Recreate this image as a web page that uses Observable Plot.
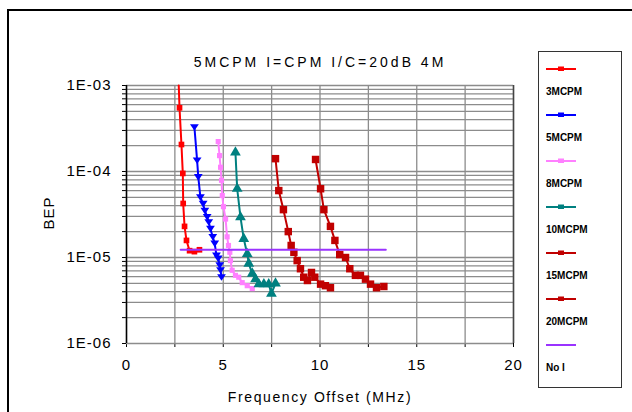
<!DOCTYPE html>
<html>
<head>
<meta charset="utf-8">
<script src="https://cdn.jsdelivr.net/npm/d3@7"></script>
<script src="https://cdn.jsdelivr.net/npm/@observablehq/plot@0.6"></script>
<style>
  html, body { margin: 0; padding: 0; background: #fff; overflow: hidden; }
  #wrap { position: relative; width: 632px; height: 412px; overflow: hidden; font-family: "Liberation Sans", Arial, sans-serif; }
  #frame { position: absolute; left: 7px; top: 9px; width: 700px; height: 500px; border: 2px solid #000; box-sizing: border-box; }
  #chart { position: absolute; left: 0; top: 0; }
  .txt { position: absolute; color: #000; white-space: nowrap; }
  #title { left: 0; width: 640px; top: 54px; text-align: center; font-size: 14px; letter-spacing: 3px; }
  #xlabel { left: 0; width: 640px; top: 389px; text-align: center; font-size: 14px; letter-spacing: 1.6px; }
  #ylabel { left: 48px; top: 213px; font-size: 15px; letter-spacing: 1px; transform: translate(-50%, -50%) rotate(-90deg); }
  #legend { position: absolute; left: 538px; top: 51px; width: 84px; height: 337px; border: 1.5px solid #333; box-sizing: border-box; background: #fff; }
  .li { position: absolute; left: 7px; }
  .ll { position: absolute; left: 7px; font-size: 10px; font-weight: bold; }
  svg text { letter-spacing: 1px; }
</style>
</head>
<body>
<div id="wrap">
  <div id="frame"></div>
  <div id="chart"></div>
  <div class="txt" id="title"></div>
  <div class="txt" id="xlabel"></div>
  <div class="txt" id="ylabel"></div>
  <div id="legend"></div>
</div>
<script>
// ---- data ----
const titleText = "5MCPM I=CPM I/C=20dB 4M";
const xLabel = "Frequency Offset (MHz)";
const yLabel = "BEP";
const seriesNames = ["3MCPM", "5MCPM", "8MCPM", "10MCPM", "15MCPM", "20MCPM", "No I"];
const xTicks = [0, 5, 10, 15, 20];
const yTicks = [1e-6, 1e-5, 1e-4, 1e-3];
const yTickLabels = ["1E-06", "1E-05", "1E-04", "1E-03"];

const s3x = [2.70, 2.74, 2.84, 2.91, 2.93, 3.00, 3.10, 3.26, 3.51, 3.77];
const s3y = [1e-3, 5.5e-4, 2.06e-4, 9.5e-5, 4.25e-5, 2.3e-5, 1.58e-5, 1.2e-5, 1.17e-5, 1.23e-5];

const s5x = [3.51, 3.65, 3.71, 3.82, 3.96, 4.05, 4.17, 4.25, 4.34, 4.46, 4.56, 4.65, 4.74, 4.82, 4.86, 4.91];
const s5y = [3.27e-4, 1.34e-4, 8.6e-5, 5.0e-5, 4.2e-5, 3.5e-5, 2.96e-5, 2.57e-5, 2.15e-5, 1.73e-5, 1.45e-5, 1.05e-5, 9.7e-6, 8.1e-6, 7.1e-6, 5.9e-6];

const s8x = [4.74, 4.81, 4.86, 4.91, 4.95, 5.01, 5.12, 5.20, 5.27, 5.34, 5.37, 5.46, 5.63, 5.80, 5.98, 6.24, 6.50];
const s8y = [2.23e-4, 1.53e-4, 1.12e-4, 7.9e-5, 5.25e-5, 3.9e-5, 2.8e-5, 1.74e-5, 1.38e-5, 1.15e-5, 9.2e-6, 7.1e-6, 6.2e-6, 5.9e-6, 5.1e-6, 4.7e-6, 4.35e-6];

const s10x = [5.63, 5.72, 5.89, 6.06, 6.24, 6.32, 6.50, 6.67, 6.84, 7.10, 7.35, 7.49, 7.70];
const s10y = [1.67e-4, 6.3e-5, 2.95e-5, 1.65e-5, 1.1e-5, 8.5e-6, 6.5e-6, 5.6e-6, 4.9e-6, 4.9e-6, 4.9e-6, 3.8e-6, 5.0e-6];

const s15x = [7.70, 7.87, 8.11, 8.36, 8.51, 8.65, 8.82, 8.99, 9.16, 9.35, 9.56, 9.73, 10.03, 10.28, 10.54];
const s15y = [1.41e-4, 6.0e-5, 3.6e-5, 2.0e-5, 1.38e-5, 1.15e-5, 9.2e-6, 7.4e-6, 5.9e-6, 5.4e-6, 6.7e-6, 5.9e-6, 4.9e-6, 4.7e-6, 4.45e-6];

const s20x = [9.77, 10.03, 10.20, 10.54, 10.77, 11.02, 11.32, 11.54, 11.83, 12.09, 12.35, 12.61, 12.92, 13.30];
const s20y = [1.38e-4, 6.3e-5, 3.6e-5, 2.3e-5, 1.58e-5, 1.08e-5, 1.0e-5, 7.4e-6, 6.2e-6, 6.2e-6, 5.6e-6, 4.9e-6, 4.45e-6, 4.6e-6];

const sNoIx = [2.80, 13.40];
const sNoIy = [1.23e-5, 1.23e-5];

// ---- styles ----
const colors = ["#ff0000", "#0000ff", "#ff80ff", "#008080", "#c00000", "#c00000", "#9a33ff"];
const invTri = {
  draw(ctx, size) {
    const r = Math.sqrt(size) * 0.62;
    ctx.moveTo(-r, -r * 0.7);
    ctx.lineTo(r, -r * 0.7);
    ctx.lineTo(0, r * 0.8);
    ctx.closePath();
  }
};
const symbols = ["square", invTri, "square", "triangle", "square", "square", null];
const radii = [3.2, 4.0, 2.9, 4.0, 4.2, 4.2, 0];

const xs = [s3x, s5x, s8x, s10x, s15x, s20x, sNoIx];
const ys = [s3y, s5y, s8y, s10y, s15y, s20y, sNoIy];
const rows = [];
seriesNames.forEach((name, i) => xs[i].forEach((x, j) => rows.push({series: name, idx: i, x, y: ys[i][j]})));

// grid values
const minorY = [];
for (let e = -6; e < -3; e++) for (let m = 1; m < 10; m++) minorY.push(m * Math.pow(10, e));
minorY.push(1e-3);
const gridX = d3.range(0, 20.001, 2.5);

const marks = [
  Plot.ruleY(minorY, {stroke: "#8c8c8c", strokeWidth: 1.3}),
  Plot.ruleX(gridX, {stroke: "#8c8c8c", strokeWidth: 1.3}),
  Plot.ruleX([20], {stroke: "#444", strokeWidth: 1.5}),
  Plot.ruleX([0], {stroke: "#000", strokeWidth: 1.5})
];
seriesNames.forEach((name, i) => {
  const data = rows.filter(d => d.idx === i);
  marks.push(Plot.line(data, {x: "x", y: "y", stroke: colors[i], strokeWidth: 2}));
  if (symbols[i]) {
    marks.push(Plot.dot(data.filter(d => d.y < 1e-3), {x: "x", y: "y", symbol: () => symbols[i], r: radii[i], fill: colors[i], stroke: "none"}));
  }
});

const chart = Plot.plot({
  width: 632,
  height: 412,
  marginLeft: 126,
  marginRight: 119,
  marginTop: 85,
  marginBottom: 69,
  style: {background: "transparent", fontFamily: "'Liberation Sans', Arial, sans-serif", fontSize: "15px", color: "#000"},
  x: {domain: [0, 20], ticks: gridX, tickFormat: d => xTicks.includes(d) ? String(d) : "", tickSize: 4, tickPadding: 12, label: null},
  y: {type: "log", domain: [1e-6, 1e-3], ticks: minorY, tickSize: 4, tickPadding: 11,
      tickFormat: d => { const k = yTicks.findIndex(t => Math.abs(t - d) / t < 1e-6); return k >= 0 ? yTickLabels[k] : ""; }, label: null},
  symbol: {type: "identity"},
  marks
});
document.getElementById("chart").appendChild(chart);
document.getElementById("title").textContent = titleText;
document.getElementById("xlabel").textContent = xLabel;
document.getElementById("ylabel").textContent = yLabel;

// legend
const legend = document.getElementById("legend");
seriesNames.forEach((name, i) => {
  const top = 13 + i * 46;
  const ns = "http://www.w3.org/2000/svg";
  const svg = document.createElementNS(ns, "svg");
  svg.setAttribute("width", 32); svg.setAttribute("height", 8);
  svg.setAttribute("class", "li");
  svg.style.top = top + "px";
  const ln = document.createElementNS(ns, "line");
  ln.setAttribute("x1", 0); ln.setAttribute("x2", 30); ln.setAttribute("y1", 4); ln.setAttribute("y2", 4);
  ln.setAttribute("stroke", colors[i]); ln.setAttribute("stroke-width", 2);
  svg.appendChild(ln);
  if (symbols[i]) {
    const rc = document.createElementNS(ns, "rect");
    rc.setAttribute("x", 12); rc.setAttribute("y", 1.5); rc.setAttribute("width", 6); rc.setAttribute("height", 4.5);
    rc.setAttribute("fill", colors[i]);
    svg.appendChild(rc);
  }
  legend.appendChild(svg);
  const lab = document.createElement("div");
  lab.className = "ll";
  lab.style.top = (top + 21) + "px";
  lab.textContent = name;
  legend.appendChild(lab);
});
</script>
</body>
</html>
